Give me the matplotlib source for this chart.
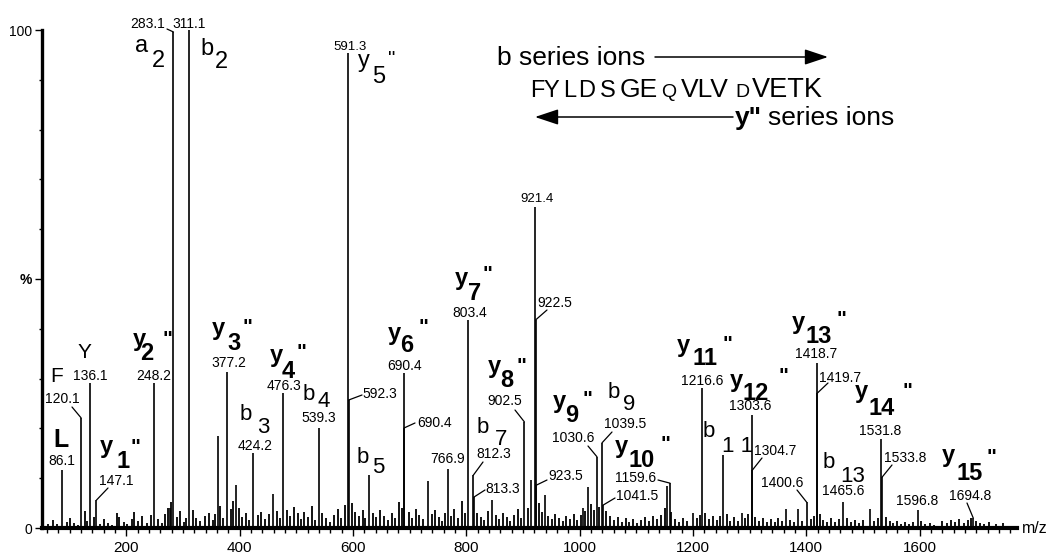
import matplotlib.pyplot as plt
from matplotlib.ticker import MultipleLocator

plt.rcParams['font.family'] = ['Liberation Sans', 'DejaVu Sans']

W, H = 1047, 554

# labelled peaks: m/z, relative intensity (%), label text
peak_mz = [86.1, 120.1, 136.1, 147.1, 248.2, 283.1, 311.1, 377.2, 424.2, 476.3,
           539.3, 591.3, 592.3, 690.4, 690.4, 766.9, 803.4, 812.3, 813.3, 902.5,
           921.4, 922.5, 923.5, 1030.6, 1039.5, 1041.5, 1159.6, 1216.6, 1303.6, 1304.7,
           1400.6, 1418.7, 1419.7, 1465.6, 1531.8, 1533.8, 1596.8, 1694.8]
peak_int = [11.6, 22.1, 29.1, 5.6, 29.1, 99.6, 100.0, 31.3, 15.1, 27.1,
            20.1, 95.4, 25.7, 31.1, 20.1, 11.8, 41.8, 10.6, 6.2, 21.3,
            64.5, 41.8, 8.6, 14.3, 17.1, 4.6, 9.0, 28.1, 22.7, 11.6,
            5.2, 33.1, 27.1, 5.2, 17.9, 10.2, 3.6, 2.0]
peak_text = ['86.1', '120.1', '136.1', '147.1', '248.2', '283.1', '311.1', '377.2', '424.2', '476.3',
             '539.3', '591.3', '592.3', '690.4', '690.4', '766.9', '803.4', '812.3', '813.3', '902.5',
             '921.4', '922.5', '923.5', '1030.6', '1039.5', '1041.5', '1159.6', '1216.6', '1303.6', '1304.7',
             '1400.6', '1418.7', '1419.7', '1465.6', '1531.8', '1533.8', '1596.8', '1694.8']

# unlabelled peaks (b5, b11 etc and others)
other_mz = [277, 361, 393, 459, 628, 732, 845, 915, 938, 1006, 1014, 1155, 1200, 1253, 1286, 1365, 1385, 1512]
other_int = [4.0, 18.5, 8.6, 6.8, 10.6, 9.4, 5.6, 9.6, 6.6, 4.0, 8.2, 8.5, 3.0, 14.7, 3.0, 3.8, 3.8, 3.8]

# baseline noise
noise_mz = [62, 71, 78, 95, 101, 108, 115, 127, 131, 142, 154, 160, 168, 175, 183, 187, 195, 201, 209, 214,
            221, 228, 236, 243, 255, 262, 268, 274, 279, 289, 295, 301, 306, 318, 323, 330, 338, 345, 352, 357,
            366, 371, 384, 389, 398, 404, 411, 417, 432, 438, 445, 452, 466, 471, 483, 488, 495, 502, 508, 514,
            521, 527, 533, 546, 552, 559, 566, 573, 579, 585, 598, 604, 611, 617, 622, 636, 641, 648, 655, 661,
            668, 674, 681, 686, 698, 704, 711, 717, 723, 739, 745, 751, 757, 762, 773, 779, 786, 792, 798, 819,
            826, 832, 838, 852, 858, 864, 871, 877, 884, 891, 897, 909, 929, 934, 944, 951, 957, 963, 970, 976,
            983, 990, 996, 1002, 1010, 1020, 1025, 1035, 1047, 1053, 1060, 1067, 1074, 1081, 1088, 1095, 1101, 1108, 1115, 1122,
            1130, 1137, 1143, 1150, 1162, 1168, 1175, 1182, 1190, 1207, 1212, 1222, 1229, 1235, 1242, 1248, 1260, 1266, 1273, 1280,
            1292, 1298, 1310, 1316, 1323, 1330, 1337, 1344, 1351, 1358, 1372, 1379, 1392, 1408, 1414, 1424, 1430, 1437, 1444, 1451,
            1457, 1472, 1479, 1486, 1493, 1500, 1519, 1526, 1540, 1547, 1554, 1561, 1568, 1575, 1582, 1589, 1603, 1610, 1618, 1625,
            1640, 1648, 1655, 1662, 1670, 1678, 1685, 1690, 1700, 1706, 1714, 1722, 1735, 1748]
noise_int = [0.8, 1.6, 0.9, 1.2, 2.0, 1.1, 0.7, 3.5, 1.4, 2.2, 0.9, 1.8, 1.1, 0.6, 3.0, 2.2, 1.3, 0.8, 1.9, 3.2,
             1.5, 2.4, 1.0, 2.6, 1.8, 1.1, 2.9, 4.1, 5.2, 2.3, 3.4, 1.2, 2.0, 3.6, 2.1, 1.4, 2.5, 3.1, 1.7, 2.8,
             4.4, 2.0, 3.8, 5.5, 4.0, 2.2, 3.0, 1.6, 2.6, 3.2, 1.9, 2.8, 3.4, 2.1, 3.6, 2.4, 4.2, 3.0, 1.8, 3.3,
             2.2, 4.5, 1.7, 3.1, 2.0, 1.3, 2.7, 3.8, 2.0, 4.6, 5.0, 3.2, 2.4, 3.6, 2.0, 3.0, 2.2, 3.7, 2.5, 1.6,
             3.0, 2.1, 5.2, 4.0, 3.3, 2.0, 3.9, 2.6, 1.8, 2.9, 3.6, 2.2, 1.5, 3.0, 2.4, 3.8, 2.0, 5.4, 3.1, 3.0,
             2.2, 1.6, 3.4, 2.7, 1.9, 3.1, 2.2, 1.4, 2.6, 3.8, 2.1, 4.0, 5.0, 3.2, 2.5, 1.8, 2.9, 2.0, 1.5, 2.4,
             1.9, 2.8, 1.6, 2.6, 3.4, 4.8, 3.6, 4.2, 3.5, 2.4, 1.6, 2.2, 1.3, 2.0, 1.2, 1.8, 1.0, 1.6, 2.2, 1.4,
             2.5, 1.8, 2.6, 4.0, 3.2, 1.8, 1.3, 2.0, 1.5, 2.0, 2.6, 3.0, 1.8, 2.4, 1.6, 2.5, 2.8, 1.5, 2.2, 1.4,
             2.0, 2.8, 2.2, 1.5, 2.0, 1.3, 1.9, 1.2, 2.0, 1.4, 1.6, 1.2, 1.5, 1.9, 2.5, 2.8, 1.7, 1.3, 2.0, 1.2,
             1.8, 2.0, 1.2, 1.7, 1.1, 1.6, 1.4, 2.0, 2.2, 1.5, 1.1, 1.4, 0.9, 1.3, 0.8, 1.2, 1.4, 0.8, 1.0, 0.7,
             1.5, 1.0, 1.6, 1.2, 1.8, 1.0, 1.6, 2.0, 1.4, 1.0, 0.8, 1.2, 0.9, 1.0]

# where each number label sits (reference pixels: centre x, baseline y)
num_xy = [(62, 465), (62, 403), (90, 380), (116, 485), (154, 380), (148, 28), (189, 28), (229, 367), (255, 450), (284, 390),
          (319, 422), (350, 50), (380, 398), (405, 370), (435, 427), (448, 463), (470, 317), (494, 458), (503, 493), (505, 405),
          (537, 202), (555, 307), (566, 480), (573, 442), (625, 428), (637, 500), (636, 482), (702, 385), (750, 410), (775, 455),
          (782, 487), (816, 358), (840, 382), (843, 495), (880, 435), (905, 462), (917, 505), (970, 500)]
num_size = [10] * len(num_xy)
num_size[11] = 9.5
num_size[20] = 9.5
# leader lines: index of peak -> label end (reference pixels)
leaders = {1: (72, 407), 3: (108, 488), 5: (167, 29), 12: (362, 395), 14: (415, 423), 17: (483, 462),
           18: (485, 490), 19: (515, 410), 21: (547, 310), 22: (547, 480), 23: (588, 446), 24: (612, 432),
           25: (615, 498), 26: (658, 480), 29: (762, 458), 30: (797, 490), 32: (828, 383), 35: (892, 465),
           37: (967, 503)}

fig = plt.figure(figsize=(W / 100, H / 100), dpi=100)
ax = fig.add_axes([42 / W, 26 / H, 975 / W, 498 / H])

ax.vlines(noise_mz, 0, noise_int, color='black', lw=1.3)
ax.vlines(other_mz, 0, other_int, color='black', lw=1.2)
ax.vlines(peak_mz, 0, peak_int, color='black', lw=1.2)

ax.set_xlim(51, 1772)
ax.set_ylim(0, 100)
for s in ['top', 'right']:
    ax.spines[s].set_visible(False)
ax.spines['left'].set_linewidth(2.4)
ax.spines['bottom'].set_linewidth(3.0)

ax.set_xticks(range(200, 1601, 200))
ax.xaxis.set_minor_locator(MultipleLocator(20))
ax.set_yticks([0, 50, 100], labels=['0', '%', '100'])
ax.yaxis.set_minor_locator(MultipleLocator(10))
ax.tick_params(axis='x', which='major', length=6, width=1, labelsize=11, pad=3)
ax.tick_params(axis='x', which='minor', length=3.5, width=1)
ax.tick_params(axis='y', which='major', length=5, width=1, labelsize=10, pad=2)
ax.tick_params(axis='y', which='minor', length=2.5, width=1)
ax.get_yticklabels()[1].set_fontweight('bold')
fig.text(1022 / W, 1 - 533 / H, 'm/z', fontsize=11.5, ha='left', va='baseline')


def fx(x, y):
    return (x / W, 1 - y / H)


for i, t in enumerate(peak_text):
    x, y = num_xy[i]
    fig.text(*fx(x, y), t, fontsize=num_size[i], ha='center', va='baseline')

for i, (x, y) in leaders.items():
    ax.annotate('', xy=(peak_mz[i], peak_int[i]), xycoords='data',
                xytext=fx(x, y), textcoords='figure fraction',
                arrowprops=dict(arrowstyle='-', lw=0.9, color='black', shrinkA=0, shrinkB=0))


def ion(x, bl, base, sub, sx, sbl, size=15, bold=False, q=None):
    w = 'bold' if bold else 'normal'
    fig.text(*fx(x, bl), base, fontsize=size, fontweight=w, ha='left', va='baseline')
    fig.text(*fx(sx, sbl), sub, fontsize=size, fontweight=w, ha='left', va='baseline')
    if q:
        fig.text(*fx(q[0], q[1]), '"', fontsize=size - 2, fontweight=w, ha='left', va='baseline')


# y'' ions
y_ions = [('1', 100, 453, 117, 468, 130, 453), ('2', 133, 346, 140, 360, 163, 345),
          ('3', 212, 335, 227, 350, 242, 333), ('4', 270, 362, 282, 378, 297, 358),
          ('6', 388, 340, 400, 352, 418, 333), ('7', 455, 285, 468, 300, 483, 280),
          ('8', 488, 373, 500, 387, 517, 372), ('9', 553, 408, 565, 422, 583, 405),
          ('10', 615, 453, 628, 467, 660, 450), ('11', 677, 352, 693, 365, 722, 350),
          ('12', 730, 387, 742, 400, 778, 382), ('13', 792, 329, 805, 343, 837, 325),
          ('14', 855, 398, 868, 415, 902, 397), ('15', 942, 462, 957, 480, 987, 463)]
for n, x, bl, sx, sbl, qx, qbl in y_ions:
    ion(x, bl, 'y', n, sx, sbl, size=17, bold=True, q=(qx, qbl))
ion(358, 67, 'y', '5', 372, 83, size=17, q=(388, 65))

# a / b ions
ion(135, 52, 'a', '2', 152, 67, size=17)
ion(200, 55, 'b', '2', 215, 68, size=17)
b_ions = [('3', 240, 420, 257, 433), ('4', 303, 400, 318, 407), ('5', 357, 463, 372, 473),
          ('7', 477, 433, 495, 445), ('9', 608, 398, 623, 410), ('1 1', 703, 437, 722, 452),
          ('13', 823, 468, 840, 482)]
for n, x, bl, sx, sbl in b_ions:
    ion(x, bl, 'b', n, sx, sbl, size=16)

# immonium ions
fig.text(*fx(78, 358), 'Y', fontsize=15, ha='left', va='baseline')
fig.text(*fx(50, 382), 'F', fontsize=15, ha='left', va='baseline')
fig.text(*fx(53, 447), 'L', fontsize=18, fontweight='bold', ha='left', va='baseline')

# sequence and series arrows
fig.text(*fx(497, 65), 'b series ions', fontsize=19, ha='left', va='baseline')
seq = [('F', 530, 17), ('Y', 543, 17), ('L', 563, 17), ('D', 578, 17), ('S', 600, 17),
       ('GE', 620, 19), ('Q', 661, 14), ('VLV', 681, 19), ('D', 735, 14), ('VETK', 752, 19.5)]
for s, x, sz in seq:
    fig.text(*fx(x, 97), s, fontsize=sz, ha='left', va='baseline')
fig.text(*fx(735, 125), 'y"', fontsize=19, fontweight='bold', ha='left', va='baseline')
fig.text(*fx(768, 125), 'series ions', fontsize=19, ha='left', va='baseline')

arr = dict(arrowstyle='-|>,head_length=0.72,head_width=0.24', mutation_scale=20,
           lw=1.1, color='black', shrinkA=0, shrinkB=0)
ax.annotate('', xy=fx(828, 57), xycoords='figure fraction', xytext=fx(655, 57),
            textcoords='figure fraction', arrowprops=arr)
ax.annotate('', xy=fx(535, 117), xycoords='figure fraction', xytext=fx(733, 117),
            textcoords='figure fraction', arrowprops=arr)

fig.savefig('out.png', dpi=100)
